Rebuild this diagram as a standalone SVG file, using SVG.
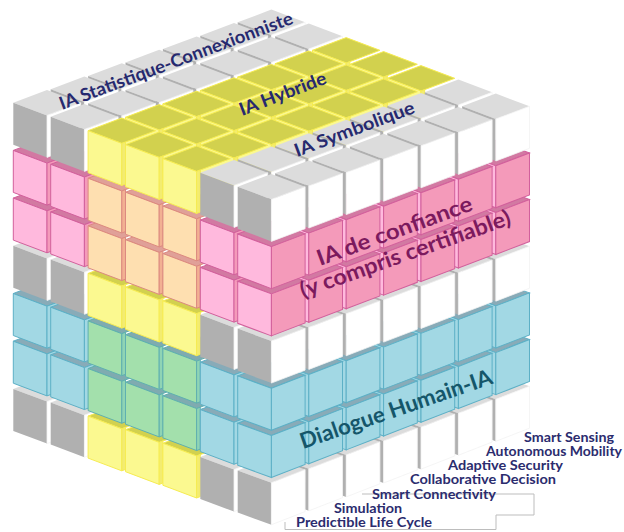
<svg xmlns="http://www.w3.org/2000/svg" width="624" height="532" viewBox="0 0 624 532">
<style>
text{font-family:"Lato","Liberation Sans",sans-serif;font-weight:700}
.navy{fill:#26296f}
.plum{fill:#7c1a5e}
.teal{fill:#15566a}
.lbl{font-size:12.5px;fill:#2b2c6e}
#P .t{fill:#dcdcdc}#P .l{fill:#b0b0b0}#P .r{fill:#fff;stroke:#f2f2f2;stroke-width:.8}
#Y .t{fill:#d2d14e}#Y .l{fill:#fbf990}#Y .r{fill:#f3ec70}#Y path{stroke:#f6ec52;stroke-width:1}
#K .t{fill:#d279a2}#K .l{fill:#ffb9dd}#K .r{fill:#f49aba}#K path{stroke:#d2609c;stroke-width:1}
#O .t{fill:#e0a098}#O .l{fill:#fedfb0}#O .r{fill:#f2b092}#O path{stroke:#dc8a80;stroke-width:1}
#B .t{fill:#88abb8}#B .l,#B .r{fill:#a2d8e4}#B path{stroke:#5db0c6;stroke-width:1}
#G .t{fill:#7fabb0}#G .l{fill:#a3e0ac}#G .r{fill:#8fd4b4}#G path{stroke:#5fb0b0;stroke-width:1}
</style>
<defs>
<g id="P"><path class="t" d="M0 0L33.7-12.7 67.4 0 33.7 12.7Z"/><path class="l" d="M0 0L33.7 12.7V54.7L0 42Z"/><path class="r" d="M33.7 12.7L67.4 0V42L33.7 54.7Z"/></g>
<g id="Y"><path class="t" d="M0 0L33.7-12.7 67.4 0 33.7 12.7Z"/><path class="l" d="M0 0L33.7 12.7V54.7L0 42Z"/><path class="r" d="M33.7 12.7L37.4 11.3V53.3L33.7 54.7Z"/></g>
<g id="K"><path class="t" d="M0 0L33.7-12.7 67.4 0 33.7 12.7Z"/><path class="l" d="M0 0L33.7 12.7V54.7L0 42Z"/><path class="r" d="M33.7 12.7L67.4 0V42L33.7 54.7Z"/></g>
<g id="O"><path class="t" d="M0 0L33.7-12.7 67.4 0 33.7 12.7Z"/><path class="l" d="M0 0L33.7 12.7V54.7L0 42Z"/><path class="r" d="M33.7 12.7L37.4 11.3V53.3L33.7 54.7Z"/></g>
<g id="B"><path class="t" d="M0 0L33.7-12.7 67.4 0 33.7 12.7Z"/><path class="l" d="M0 0L33.7 12.7V54.7L0 42Z"/><path class="r" d="M33.7 12.7L67.4 0V42L33.7 54.7Z"/></g>
<g id="G"><path class="t" d="M0 0L33.7-12.7 67.4 0 33.7 12.7Z"/><path class="l" d="M0 0L33.7 12.7V54.7L0 42Z"/><path class="r" d="M33.7 12.7L37.4 11.3V53.3L33.7 54.7Z"/></g>
<g id="lineP"><use href="#P" x="224.4" y="-80.4"/><use href="#P" x="187" y="-67"/><use href="#P" x="149.6" y="-53.6"/><use href="#P" x="112.2" y="-40.2"/><use href="#P" x="74.8" y="-26.8"/><use href="#P" x="37.4" y="-13.4"/><use href="#P"/></g>
<g id="lineY"><use href="#Y" x="224.4" y="-80.4"/><use href="#Y" x="187" y="-67"/><use href="#Y" x="149.6" y="-53.6"/><use href="#Y" x="112.2" y="-40.2"/><use href="#Y" x="74.8" y="-26.8"/><use href="#Y" x="37.4" y="-13.4"/><use href="#Y"/></g>
<g id="lineK"><use href="#K" x="224.4" y="-80.4"/><use href="#K" x="187" y="-67"/><use href="#K" x="149.6" y="-53.6"/><use href="#K" x="112.2" y="-40.2"/><use href="#K" x="74.8" y="-26.8"/><use href="#K" x="37.4" y="-13.4"/><use href="#K"/></g>
<g id="lineB"><use href="#B" x="224.4" y="-80.4"/><use href="#B" x="187" y="-67"/><use href="#B" x="149.6" y="-53.6"/><use href="#B" x="112.2" y="-40.2"/><use href="#B" x="74.8" y="-26.8"/><use href="#B" x="37.4" y="-13.4"/><use href="#B"/></g>
</defs>
<g id="layer-7"><use href="#P" x="13.3" y="388.9"/><use href="#P" x="50.7" y="402.48"/><use href="#Y" x="88.1" y="416.12"/><use href="#Y" x="125.5" y="429.7"/><use href="#Y" x="162.9" y="443.28"/><use href="#P" x="200.3" y="456.92"/><use href="#lineP" transform="matrix(1 -.0134 0 1 237.7 470.5)"/></g>
<g id="dialogue-bas"><use href="#B" x="13.3" y="341.2"/><use href="#B" x="50.7" y="354.85"/><use href="#G" x="88.1" y="368.55"/><use href="#G" x="125.5" y="382.2"/><use href="#G" x="162.9" y="395.85"/><use href="#B" x="200.3" y="409.55"/><use href="#lineB" transform="matrix(1 -.0112 0 1 237.7 423.2)"/></g>
<g id="dialogue-haut"><use href="#B" x="13.3" y="293.5"/><use href="#B" x="50.7" y="307.22"/><use href="#G" x="88.1" y="320.98"/><use href="#G" x="125.5" y="334.7"/><use href="#G" x="162.9" y="348.42"/><use href="#B" x="200.3" y="362.18"/><use href="#lineB" transform="matrix(1 -.0089 0 1 237.7 375.9)"/></g>
<g id="layer-4"><use href="#P" x="13.3" y="245.8"/><use href="#P" x="50.7" y="259.59"/><use href="#Y" x="88.1" y="273.41"/><use href="#Y" x="125.5" y="287.2"/><use href="#Y" x="162.9" y="301"/><use href="#P" x="200.3" y="314.81"/><use href="#lineP" transform="matrix(1 -.0067 0 1 237.7 328.6)"/></g>
<g id="confiance-bas"><use href="#K" x="13.3" y="198.1"/><use href="#K" x="50.7" y="211.96"/><use href="#O" x="88.1" y="225.84"/><use href="#O" x="125.5" y="239.7"/><use href="#O" x="162.9" y="253.56"/><use href="#K" x="200.3" y="267.44"/><use href="#lineK" transform="matrix(1 -.0045 0 1 237.7 281.3)"/></g>
<g id="confiance-haut"><use href="#K" x="13.3" y="150.4"/><use href="#K" x="50.7" y="164.33"/><use href="#O" x="88.1" y="178.27"/><use href="#O" x="125.5" y="192.2"/><use href="#O" x="162.9" y="206.13"/><use href="#K" x="200.3" y="220.07"/><use href="#lineK" transform="matrix(1 -.0022 0 1 237.7 234)"/></g>
<g id="top">
<use href="#lineP" x="13.3" y="102.7"/><use href="#lineP" x="50.7" y="116.7"/>
<use href="#lineY" x="88.1" y="130.7"/><use href="#lineY" x="125.5" y="144.7"/><use href="#lineY" x="162.9" y="158.7"/>
<use href="#lineP" x="200.3" y="172.7"/><use href="#lineP" x="237.7" y="186.7"/>
</g>
<g id="connectors"><path d="M285 522V529.5H496V515H534V494H362" fill="none" stroke="#bdbdbd" stroke-width="1"/></g>
<g id="labels">
<text class="navy" font-size="18" transform="translate(62 110) rotate(-20.5)" textLength="248" lengthAdjust="spacingAndGlyphs">IA Statistique-Connexionniste</text>
<text class="navy" font-size="18" transform="translate(242 116) rotate(-21)" textLength="92" lengthAdjust="spacingAndGlyphs">IA Hybride</text>
<text class="navy" font-size="18" transform="translate(297 157) rotate(-20.5)" textLength="127" lengthAdjust="spacingAndGlyphs">IA Symbolique</text>
<text class="plum" font-size="22" transform="translate(320 266) rotate(-20)" textLength="164" lengthAdjust="spacingAndGlyphs">IA de confiance</text>
<text class="plum" font-size="22" transform="translate(303 298) rotate(-19.5)" textLength="222" lengthAdjust="spacingAndGlyphs">(y compris certifiable)</text>
<text class="teal" font-size="22" transform="translate(303 449) rotate(-19)" textLength="202" lengthAdjust="spacingAndGlyphs">Dialogue Humain-IA</text>
<text class="lbl" x="524" y="441.5" textLength="90" lengthAdjust="spacingAndGlyphs">Smart Sensing</text>
<text class="lbl" x="486" y="455.5" textLength="136" lengthAdjust="spacingAndGlyphs">Autonomous Mobility</text>
<text class="lbl" x="448" y="470" textLength="115" lengthAdjust="spacingAndGlyphs">Adaptive Security</text>
<text class="lbl" x="410" y="484" textLength="146" lengthAdjust="spacingAndGlyphs">Collaborative Decision</text>
<text class="lbl" x="372" y="498.5" textLength="124" lengthAdjust="spacingAndGlyphs">Smart Connectivity</text>
<text class="lbl" x="334" y="512.5" textLength="68" lengthAdjust="spacingAndGlyphs">Simulation</text>
<text class="lbl" x="296" y="527" textLength="136" lengthAdjust="spacingAndGlyphs">Predictible Life Cycle</text>
</g>
</svg>
